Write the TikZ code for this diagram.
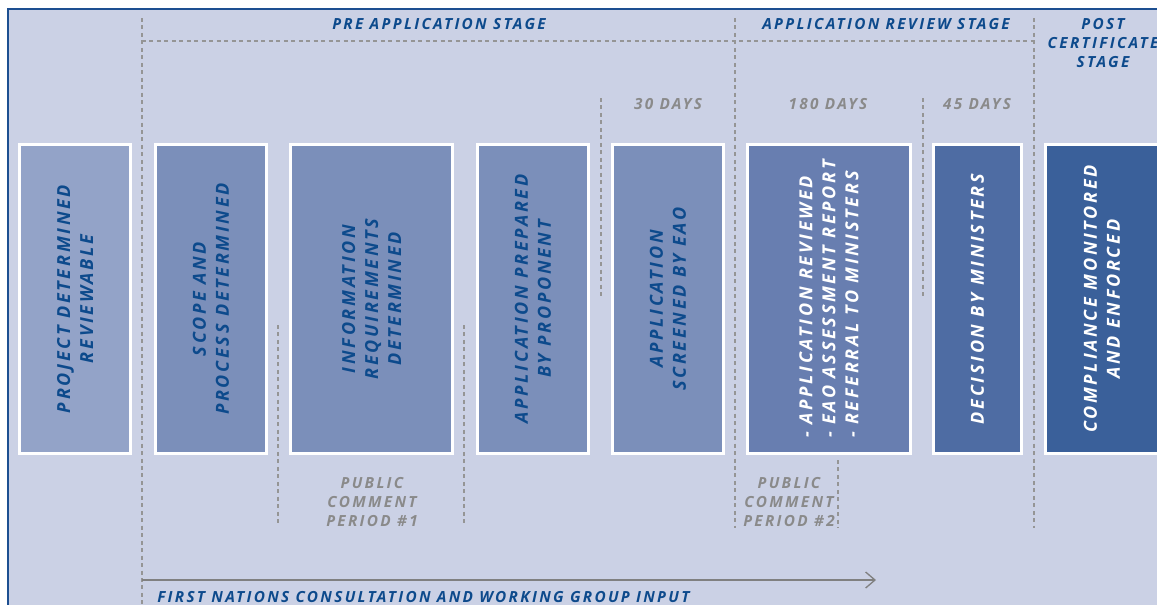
\documentclass[tikz,border=0pt]{standalone}
\usepackage{fontspec}
\usetikzlibrary{arrows.meta}
\newfontfamily\stagefont[LetterSpace=15]{Open Sans}
\definecolor{bgblue}{HTML}{CBD1E5}
\definecolor{edgeblue}{HTML}{1D4F91}
\definecolor{inkblue}{HTML}{0D4A8C}
\definecolor{daygray}{HTML}{8A8A8A}
\definecolor{dashgray}{HTML}{959595}
\definecolor{boxa}{HTML}{93A3C8}
\definecolor{boxb}{HTML}{7B8FBA}
\definecolor{boxc}{HTML}{687EB0}
\definecolor{boxd}{HTML}{4E6CA3}
\definecolor{boxe}{HTML}{3A609A}
\def\boxfont{\stagefont\bfseries\itshape\fontsize{13.5}{17.25}\selectfont}
\def\labfont{\stagefont\bfseries\itshape\fontsize{11.5}{14.6}\selectfont}
\tikzstyle{bx}=[draw=white,line width=2pt,rotate=90,minimum width=232pt,inner sep=0pt,align=center,font=\boxfont]
\tikzstyle{dk}=[bx,text=inkblue]
\tikzstyle{wt}=[bx,text=white]
\tikzstyle{dl}=[dashgray,line width=0.8pt,dash pattern=on 3pt off 2.6pt]
\tikzstyle{lab}=[text=inkblue,font=\labfont,align=center]
\tikzstyle{gy}=[text=daygray,font=\labfont,align=center]

\begin{document}
\begin{tikzpicture}[x=0.75pt,y=-0.75pt]
	\useasboundingbox (0,0) rectangle (1157,604);
	\fill[white] (0,0) rectangle (1157,604);
	\filldraw[fill=bgblue,draw=edgeblue,line width=1.2pt] (8,9) rectangle (1170,620);
	\foreach \x/\a/\b in {142/18/604,735/18/528,1034/18/528,601/98/298,923/98/298,278/325/525,464/325/525,838/460/528}
		\draw[dl] (\x,\a) -- (\x,\b);
	\draw[dl] (142,41) -- (1034,41);
	\node[dk,fill=boxa,minimum height=83.5pt] (det) at (75,299) {PROJECT DETERMINED\\REVIEWABLE};
	\node[dk,fill=boxb,minimum height=83.5pt] (scope) at (211,299) {SCOPE AND\\PROCESS DETERMINED};
	\node[dk,fill=boxb,minimum height=121.75pt] (info) at (371.5,299) {INFORMATION\\REQUIREMENTS\\DETERMINED};
	\node[dk,fill=boxb,minimum height=83.5pt] (prep) at (533,299) {APPLICATION PREPARED\\BY PROPONENT};
	\node[dk,fill=boxb,minimum height=83.5pt] (screen) at (668,299) {APPLICATION\\SCREENED BY EAO};
	\node[wt,fill=boxc,minimum height=122.5pt,align=left] (rev) at (829,299) {- APPLICATION REVIEWED\\- EAO ASSESSMENT REPORT\\- REFERRAL TO MINISTERS};
	\node[wt,fill=boxd,minimum height=66.25pt] (dec) at (977.5,299) {DECISION BY MINISTERS};
	\node[wt,fill=boxe,minimum height=85pt] (comp) at (1102,299) {COMPLIANCE MONITORED\\AND ENFORCED};
	\node[lab] (pre) at (439,24) {PRE APPLICATION STAGE};
	\node[lab] (review) at (886,24) {APPLICATION REVIEW STAGE};
	\node[lab] (post) at (1103,43) {POST\\CERTIFICATE\\STAGE};
	\node[gy] (d30) at (668,104) {30 DAYS};
	\node[gy] (d180) at (828,104) {180 DAYS};
	\node[gy] (d45) at (977,104) {45 DAYS};
	\node[gy] (pc1) at (372,502) {PUBLIC\\COMMENT\\PERIOD \#1};
	\node[gy] (pc2) at (789,502) {PUBLIC\\COMMENT\\PERIOD \#2};
	\coordinate (fnstart) at (142,580);
	\coordinate (fnend) at (876,580);
	\draw[gray,line width=1pt,-{Straight Barb[length=7pt,width=12pt]}] (fnstart) -- (fnend);
	\node[lab,anchor=west,inner sep=0pt] (fn) at (157,597) {FIRST NATIONS CONSULTATION AND WORKING GROUP INPUT};
\end{tikzpicture}
\end{document}
